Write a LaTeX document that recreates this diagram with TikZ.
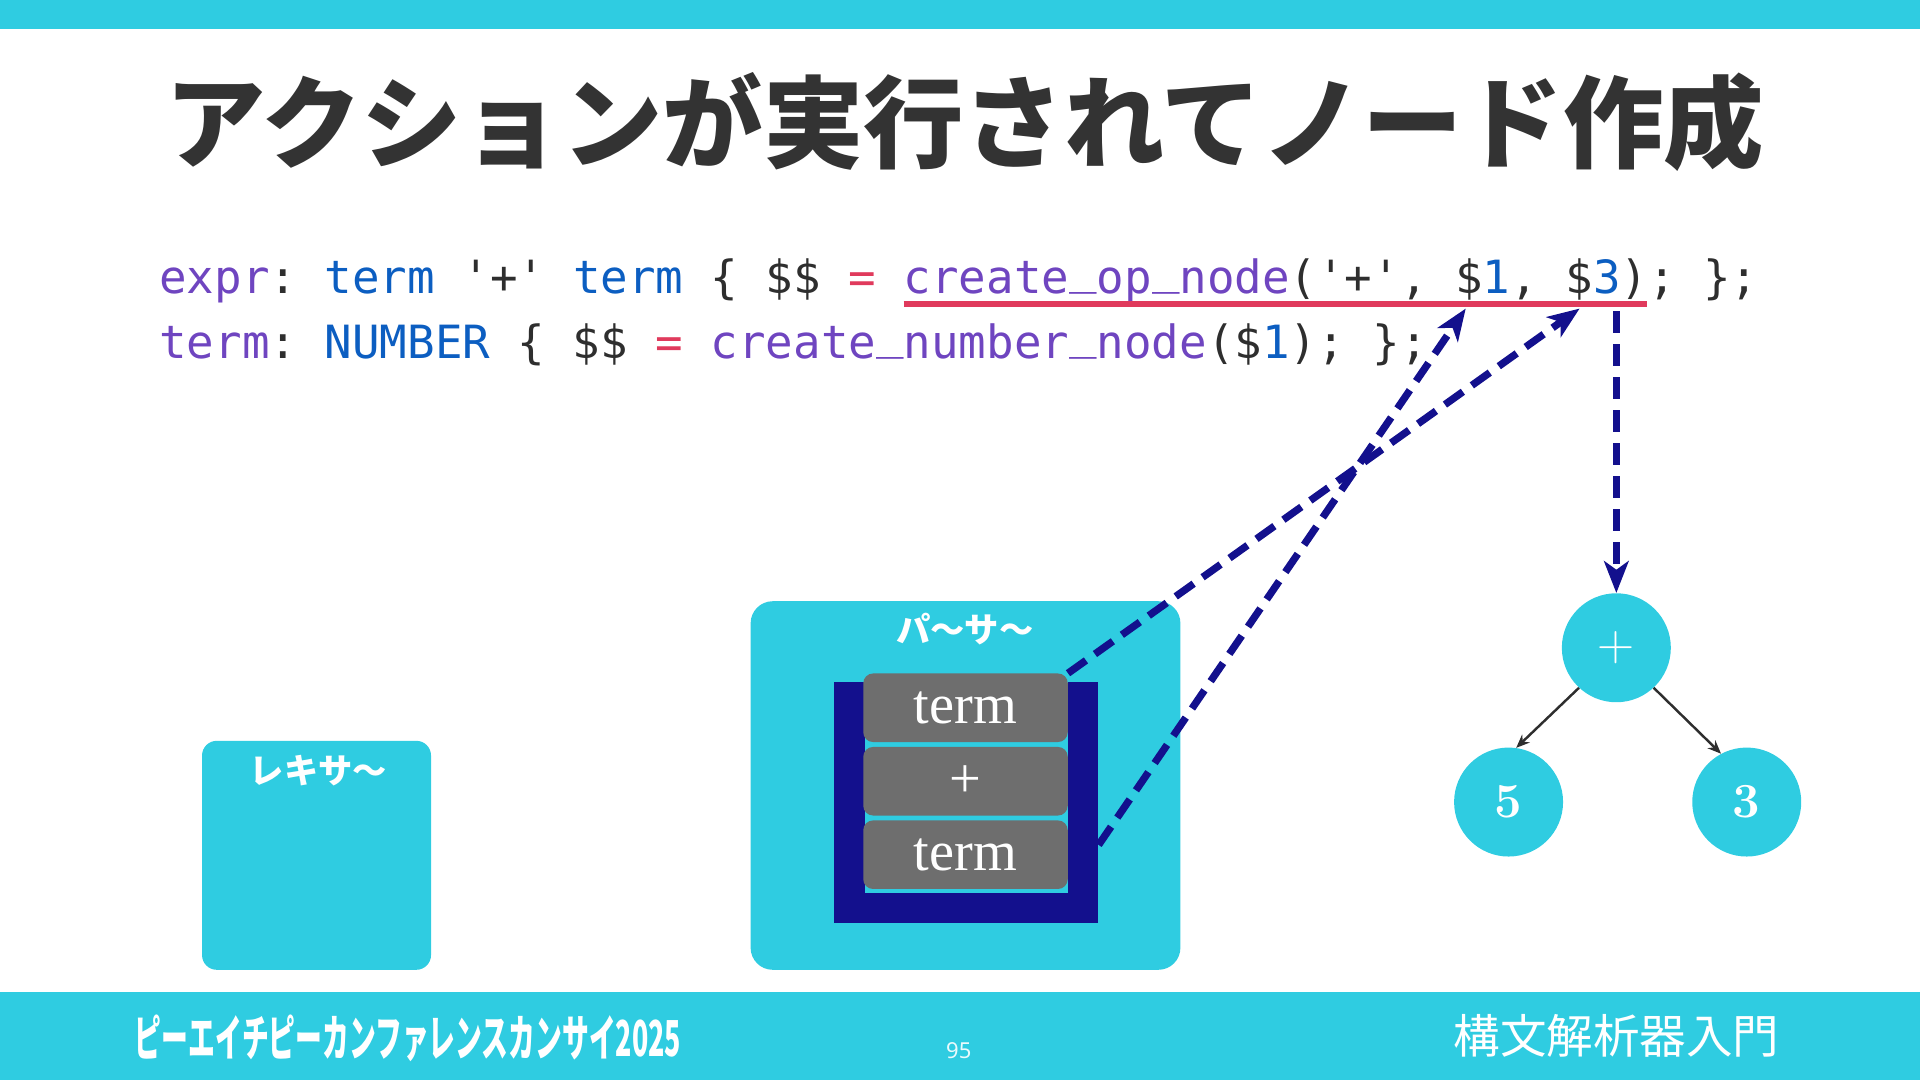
\documentclass[tikz,border=0pt]{standalone}
\usepackage{fontspec}
\setmonofont{DejaVu Sans Mono}
\newfontfamily\jp{Noto Sans CJK JP}
\newfontfamily\nsans{Noto Sans}
\newfontfamily\tms{Liberation Serif}
\usetikzlibrary{arrows.meta,calc}
\definecolor{cyanbg}{HTML}{2FCCE1}
\definecolor{navy}{HTML}{13108D}
\definecolor{boxgray}{HTML}{6E6E6E}
\definecolor{cpurple}{HTML}{6F45C0}
\definecolor{cblue}{HTML}{0C5EC1}
\definecolor{cdark}{HTML}{2E2E2E}
\definecolor{cred}{HTML}{E03A5C}
\definecolor{titlegray}{HTML}{333333}
\newcommand{\us}{\raisebox{0.22em}{\_}}
\tikzset{
  panel/.style={fill=cyanbg, draw=none},
  stackitem/.style={fill=boxgray, draw=none, rounded corners=8pt, minimum width=167pt, minimum height=56pt, inner sep=0pt, text=white, font=\tms\fontsize{46}{48}\selectfont},
  treenode/.style={circle, fill=cyanbg, draw=none, minimum size=89pt, inner sep=0pt, text=white, font=\fontsize{42}{44}\selectfont},
  codeline/.style={anchor=base west, inner sep=0pt, font=\ttfamily\fontsize{37.4}{40}\selectfont},
  flowarrow/.style={draw=navy, line width=6pt, dash pattern=on 18pt off 9pt, -{Stealth[length=26pt,width=20pt,inset=7pt]}},
  treeedge/.style={draw=cdark, line width=2pt, -{Stealth[length=11pt,width=9pt]}},
  panellabel/.style={anchor=base, inner sep=0pt, text=white, font=\jp\bfseries\fontsize{28}{32}\selectfont}
}
\begin{document}
\begin{tikzpicture}[x=1pt,y=-1pt]
\useasboundingbox (0,0) rectangle (1568,882);
% bars
\fill[cyanbg] (0,0) rectangle (1568,24);
\fill[cyanbg] (0,810) rectangle (1568,882);
% title
\node[anchor=base, inner sep=0pt, text=titlegray, font=\jp\bfseries\fontsize{82}{90}\selectfont] (title) at (788,131) {アクションが実行されてノード作成};
% code
\node[codeline] (code1) at (130,240) {\textcolor{cpurple}{expr}\textcolor{cdark}{:} \textcolor{cblue}{term} \textcolor{cdark}{'+'} \textcolor{cblue}{term} \textcolor{cdark}{\{ \$\$} \textcolor{cred}{=} \textcolor{cpurple}{create\us op\us node}\textcolor{cdark}{('+', \$}\textcolor{cblue}{1}\textcolor{cdark}{, \$}\textcolor{cblue}{3}\textcolor{cdark}{); \};}};
\node[codeline] (code2) at (130,293) {\textcolor{cpurple}{term}\textcolor{cdark}{:} \textcolor{cblue}{NUMBER} \textcolor{cdark}{\{ \$\$} \textcolor{cred}{=} \textcolor{cpurple}{create\us number\us node}\textcolor{cdark}{(\$}\textcolor{cblue}{1}\textcolor{cdark}{); \};}};
% underline
\coordinate (ulA) at (738,248);
\coordinate (ulB) at (1345,248);
\draw[cred, line width=5pt] (ulA) -- (ulB);
% lexer
\node[panel, rounded corners=12pt, minimum width=187pt, minimum height=187pt, inner sep=0pt] (lexer) at (258.5,698.5) {};
\node[panellabel] (lexlabel) at (260,640) {レキサ〜};
% parser
\node[panel, rounded corners=18pt, minimum width=351pt, minimum height=301pt, inner sep=0pt] (parser) at (788.5,641.5) {};
\node[panellabel] (parlabel) at (788,525) {パ〜サ〜};
% stack U
\fill[navy] (681,557) rectangle (897,754);
\fill[cyanbg] (706,557) rectangle (872,729);
\node[stackitem] (t1) at (788.5,578) {term};
\node[stackitem] (pl) at (788.5,638) {+};
\node[stackitem] (t3) at (788.5,698) {term};
% tree
\node[treenode] (op) at (1320,529) {+};
\node[treenode, font=\bfseries\fontsize{40}{44}\selectfont] (n5) at (1232,655) {5};
\node[treenode, font=\bfseries\fontsize{40}{44}\selectfont] (n3) at (1426.5,655) {3};
\draw[treeedge] (op.-133) -- (n5.82);
\draw[treeedge] (op.-47) -- (n3.118);
% flow arrows
\coordinate (d1) at (1197,252);
\coordinate (d3) at (1290,252);
\coordinate (dout) at (1320,254);
\draw[flowarrow] (t1.north east) -- (d3);
\draw[flowarrow] ($(t3.east)+(25,-8)$) -- (d1);
\draw[flowarrow] (dout) -- (op.north);
% footer
\node[anchor=west, inner sep=0pt, text=white] (conf) at (110,848) {\resizebox{446pt}{34pt}{\jp\bfseries ピーエイチピーカンファレンスカンサイ2025}};
\node[inner sep=0pt, text=white!90!cyanbg, font=\nsans\fontsize{18}{20}\selectfont] (page) at (783,858) {95};
\node[anchor=base, inner sep=0pt, text=white, font=\jp\fontsize{38}{40}\selectfont] (subject) at (1320,860) {構文解析器入門};
\end{tikzpicture}
\end{document}
